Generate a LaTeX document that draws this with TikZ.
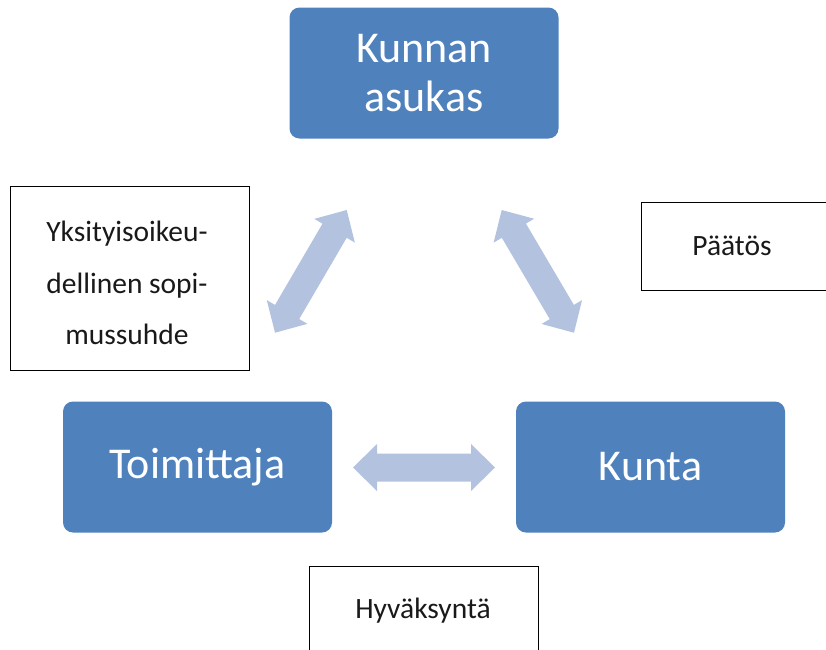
\documentclass[tikz,border=0pt]{standalone}
\usepackage{fontspec}
\setmainfont{Carlito}
\usetikzlibrary{calc}
\definecolor{boxblue}{HTML}{4F81BD}
\definecolor{arrowblue}{HTML}{B3C3DF}

% Wide two-headed block arrow between two named coordinates
\newcommand\twoheadblock[2]{%
  \fill[arrowblue]
    (#1)
    -- ($($(#1)!24pt!(#2)$)!23.5pt!90:(#1)$)
    -- ($($(#1)!24pt!(#2)$)!14pt!90:(#1)$)
    -- ($($(#2)!24pt!(#1)$)!14pt!-90:(#2)$)
    -- ($($(#2)!24pt!(#1)$)!23.5pt!-90:(#2)$)
    -- (#2)
    -- ($($(#2)!24pt!(#1)$)!23.5pt!90:(#2)$)
    -- ($($(#2)!24pt!(#1)$)!14pt!90:(#2)$)
    -- ($($(#1)!24pt!(#2)$)!14pt!-90:(#1)$)
    -- ($($(#1)!24pt!(#2)$)!23.5pt!-90:(#1)$)
    -- cycle;}

\tikzset{
  party/.style={fill=boxblue, rounded corners=10pt, minimum width=269pt,
    minimum height=131pt, text=white, align=center, inner sep=0pt,
    font=\fontsize{44}{49}\selectfont},
  notebox/.style={draw=black, line width=0.9pt, fill=white, inner sep=0pt},
  notetext/.style={align=center, inner sep=0pt, text=black!90,
    font=\fontsize{29.5}{51.5}\selectfont},
}

\begin{document}
\begin{tikzpicture}[x=1pt, y=-1pt]
  \useasboundingbox (0,0) rectangle (826,649);

  % main parties
  \node[party] (asukas) at (424,73) {Kunnan\\asukas};
  \node[party] (toim)   at (197.5,467) {Toimittaja};
  \node[party] (kunta)  at (650.5,467) {Kunta};

  % relation notes
  \node[notebox, minimum width=239pt, minimum height=184pt] (sopibox) at (129.5,278) {};
  \node[notetext] (sopi) at (127,283) {Yksityisoikeu-\\dellinen sopi-\\mussuhde};

  \node[notebox, minimum width=192pt, minimum height=88pt] (paatosbox) at (737,246) {};
  \node[notetext, anchor=base] (paatos) at (732,255.7) {Päätös};

  \node[notebox, minimum width=229pt, minimum height=110pt] (hyvbox) at (423.5,621) {};
  \node[notetext, anchor=base] (hyv) at (423,618) {Hyväksyntä};

  % arrow end points
  \coordinate (la1) at (346.7,210);
  \coordinate (la2) at (275,332.7);
  \coordinate (ra1) at (501.7,210);
  \coordinate (ra2) at (574,332.7);
  \coordinate (ha1) at (353,467.5);
  \coordinate (ha2) at (495,467.5);

  \twoheadblock{la1}{la2}
  \twoheadblock{ra1}{ra2}
  \twoheadblock{ha1}{ha2}
\end{tikzpicture}
\end{document}
